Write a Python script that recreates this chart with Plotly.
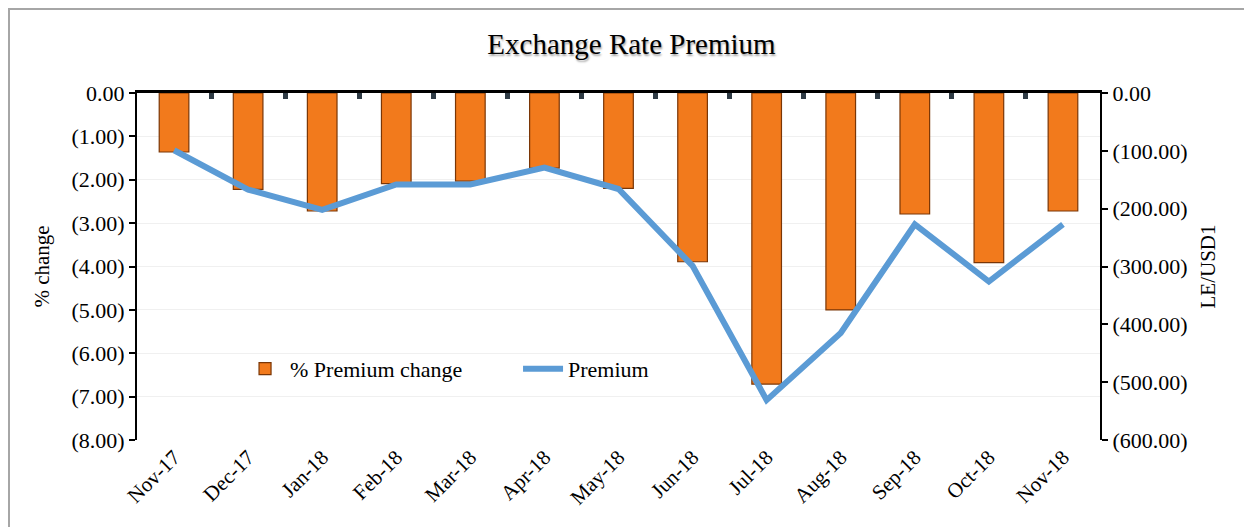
import plotly.graph_objects as go

categories = ["Nov-17", "Dec-17", "Jan-18", "Feb-18", "Mar-18", "Apr-18", "May-18",
              "Jun-18", "Jul-18", "Aug-18", "Sep-18", "Oct-18", "Nov-18"]
pct_change = [-1.36, -2.22, -2.72, -2.09, -2.03, -1.73, -2.20,
              -3.89, -6.71, -5.00, -2.79, -3.91, -2.72]
premium = [-99, -167, -202, -158, -158, -129, -166,
           -299, -531, -415, -227, -326, -227]

left_tickvals = [0, -1, -2, -3, -4, -5, -6, -7, -8]
left_ticktext = ["0.00", "(1.00)", "(2.00)", "(3.00)", "(4.00)", "(5.00)", "(6.00)", "(7.00)", "(8.00)"]
right_tickvals = [0, -100, -200, -300, -400, -500, -600]
right_ticktext = ["0.00", "(100.00)", "(200.00)", "(300.00)", "(400.00)", "(500.00)", "(600.00)"]

FONT = "Liberation Serif, Times New Roman, serif"

fig = go.Figure()
fig.add_trace(go.Bar(
    x=categories, y=pct_change, name="% Premium change",
    marker=dict(color="#f27a1c", line=dict(color="#7a3606", width=1.2)),
    width=0.4, xaxis="x", yaxis="y",
))
fig.add_trace(go.Scatter(
    x=categories, y=premium, name="Premium", mode="lines",
    line=dict(color="#5b9bd5", width=6),
    xaxis="x2", yaxis="y2",
))

# page has an 8px body margin; plot area targeted at x 137..1100, y 93..440
fig.update_layout(
    width=1252, height=527,
    paper_bgcolor="white", plot_bgcolor="white",
    margin=dict(l=129, r=160, t=85, b=95),
    font=dict(family=FONT, color="black", size=22),
    title=dict(
        text="Exchange Rate Premium",
        x=0.498, xref="container", xanchor="center",
        y=0.932, yref="container", yanchor="middle",
        font=dict(family=FONT, size=29, color="black",
                  shadow="1px 2px 2px rgba(0,0,0,0.35)"),
    ),
    showlegend=True,
    legend=dict(
        orientation="h", x=0.107, y=0.205, xanchor="left", yanchor="middle",
        font=dict(family=FONT, size=22), bgcolor="rgba(0,0,0,0)",
        itemwidth=40, entrywidth=223, tracegroupgap=0,
    ),
    xaxis=dict(
        type="category", categoryorder="array", categoryarray=categories,
        range=[-0.5, len(categories) - 0.5],
        showline=False, showgrid=False, ticks="", tickangle=-45,
        tickfont=dict(family=FONT, size=21), anchor="y",
    ),
    xaxis2=dict(
        type="category", categoryorder="array", categoryarray=categories,
        range=[-0.5, len(categories) - 0.5],
        overlaying="x", side="top", anchor="y2",
        showticklabels=False, showgrid=False,
        showline=True, linecolor="black", linewidth=3,
        ticks="inside", tickson="boundaries", ticklen=6, tickwidth=5, tickcolor="#2e3a44",
    ),
    yaxis=dict(
        range=[-8, 0], tickvals=left_tickvals, ticktext=left_ticktext,
        showline=True, linecolor="black", linewidth=2,
        ticks="outside", ticklen=6, tickwidth=2, tickcolor="black",
        showgrid=True, gridcolor="#f0f0f0", gridwidth=1, zeroline=False,
        title=dict(text="% change", font=dict(family=FONT, size=21), standoff=16),
        tickfont=dict(family=FONT, size=22),
    ),
    yaxis2=dict(
        range=[-600, 0], tickvals=right_tickvals, ticktext=right_ticktext,
        overlaying="y", side="right", anchor="x2",
        showline=True, linecolor="black", linewidth=2,
        ticks="outside", ticklen=6, tickwidth=2, tickcolor="black",
        showgrid=False, zeroline=False,
        title=dict(text="LE/USD1", font=dict(family=FONT, size=21), standoff=14),
        tickfont=dict(family=FONT, size=22),
    ),
    shapes=[dict(
        type="rect", xref="paper", yref="paper",
        x0=(9 - 137) / 963, x1=(1262 - 137) / 963,
        y0=(440 - 540) / 347, y1=(440 - 9) / 347,
        line=dict(color="#a6a6a6", width=2), fillcolor="rgba(0,0,0,0)", layer="below",
    )],
)

fig.write_html("out.html")
